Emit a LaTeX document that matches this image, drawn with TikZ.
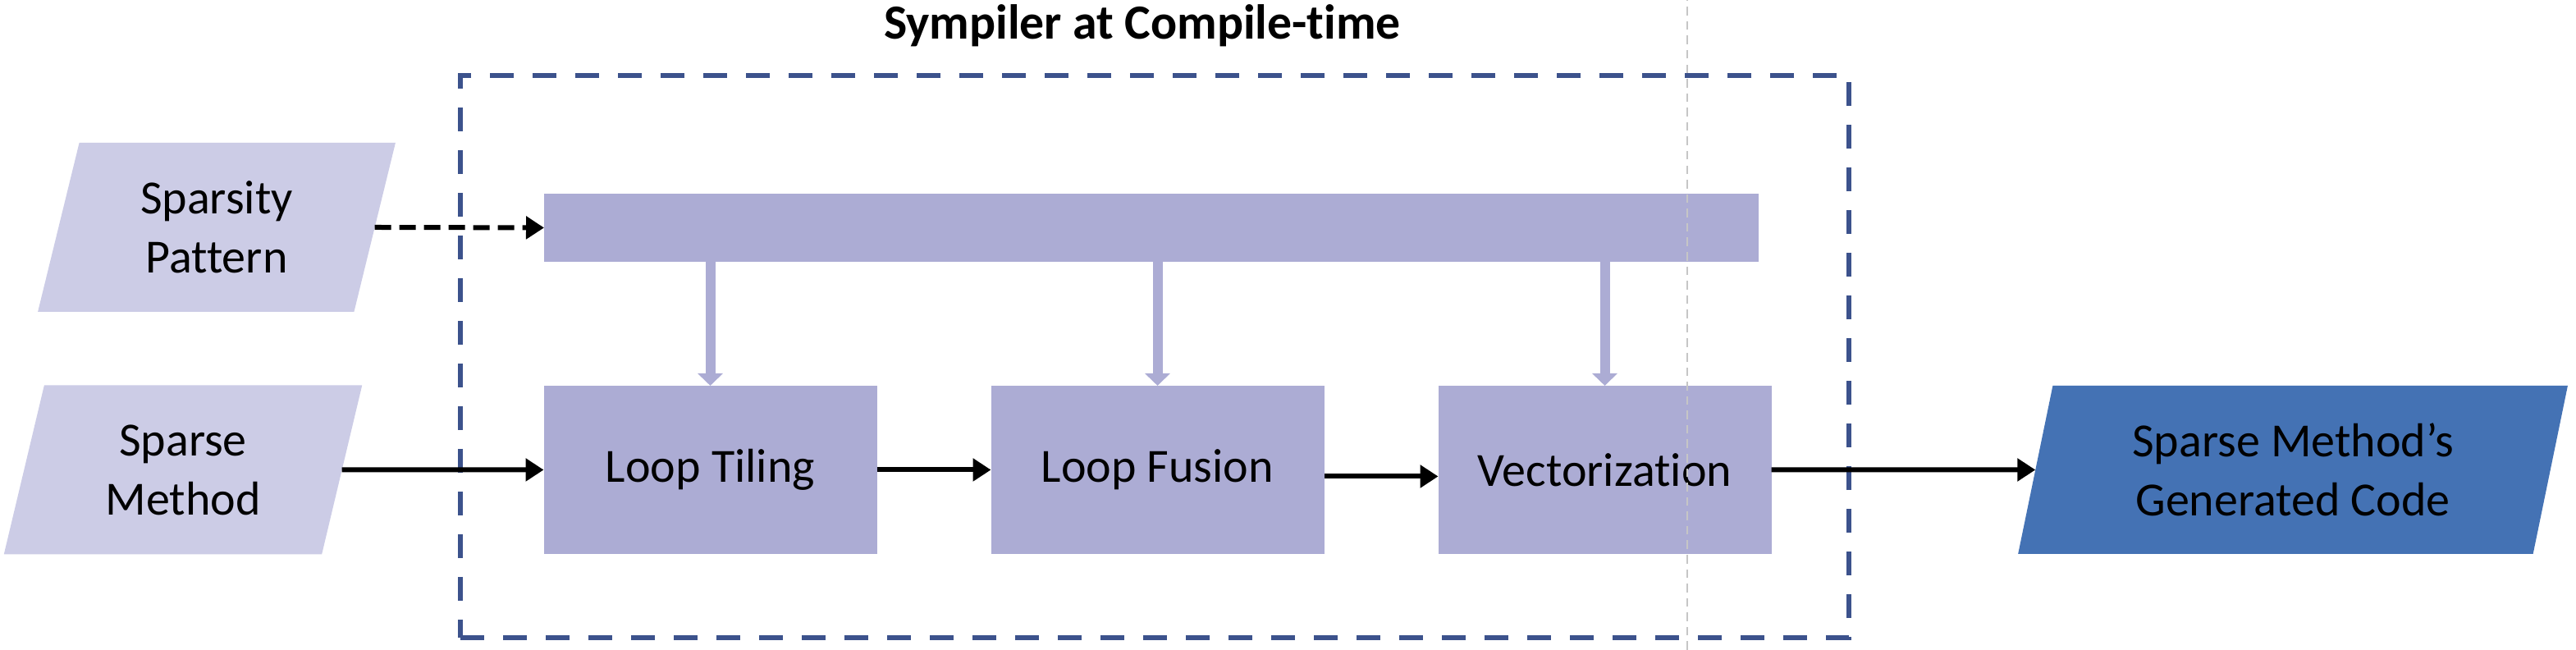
\documentclass[tikz,border=0pt]{standalone}
\usepackage{fontspec}
\setmainfont{Carlito}[Ligatures=NoCommon]
\usetikzlibrary{arrows.meta,positioning,shapes.geometric,calc}

\definecolor{stagefill}{RGB}{172,172,212}
\definecolor{inputfill}{RGB}{204,204,230}
\definecolor{outputfill}{RGB}{68,114,180}
\definecolor{frameblue}{RGB}{60,82,140}

\begin{document}
\begin{tikzpicture}[
  font=\fontsize{16.5}{20.5}\selectfont,
  line/.style={-{Triangle[length=0.22cm, width=0.27cm]}, line width=0.06cm},
  dline/.style={line, dash pattern=on 0.2cm off 0.1cm},
  feed/.style={-{Triangle[length=0.15cm, width=0.30cm]}, line width=0.12cm, draw=stagefill},
  stagebox/.style={
    fill=stagefill, align=center, inner sep=0pt, outer sep=0pt,
    minimum width=4.06cm, minimum height=2.05cm
  },
  barbox/.style={
    fill=stagefill, inner sep=0pt, outer sep=0pt,
    minimum width=14.80cm, minimum height=0.83cm
  },
  inbox/.style={
    trapezium, trapezium left angle=76, trapezium right angle=104,
    trapezium stretches=true, fill=inputfill, align=center,
    inner sep=0pt, outer sep=0pt, minimum width=4.37cm, minimum height=2.06cm
  },
  outbox/.style={inbox, fill=outputfill, minimum width=6.70cm, minimum height=2.05cm},
  framebox/.style={
    draw=frameblue, line width=0.055cm, dash pattern=on 0.29cm off 0.23cm,
    inner sep=0pt, minimum width=16.92cm, minimum height=6.85cm
  },
  title/.style={font=\bfseries\fontsize{17}{20}\selectfont},
  guide/.style={draw=gray!45, line width=0.4pt, densely dashed}
]
\useasboundingbox (0,0) rectangle (31.39,7.92);

% Frame and title
\node[framebox] (frame) at (14.07,3.575) {};
\node[title, anchor=base] (head) at (13.92,7.44) {Sympiler at Compile-time};

% Inputs
\node[inbox] (pattern) at (2.64,5.15) {Sparsity\\Pattern};
\node[inbox] (method) at (2.23,2.195) {Sparse\\Method};

% Stages
\node[barbox, anchor=north west] (bar) at (6.63,5.56) {};
\node[stagebox] (tiling) at (8.655,2.195) {Loop Tiling};
\node[stagebox, right=1.39cm of tiling] (fusion) {Loop Fusion};
\node[stagebox, right=1.39cm of fusion] (vector) {Vectorization};

% Output
\node[outbox] (code) at (27.94,2.195) {Sparse Method’s\\Generated Code};

% Connectors
\draw[dline] (pattern.east) -- (bar.west);
\draw[line] (method.east) -- (tiling.west);
\draw[line] (tiling) -- (fusion);
\draw[line] ([yshift=-0.08cm]fusion.east) -- ([yshift=-0.08cm]vector.west);
\draw[line] (vector.east) -- (code.west);

% Feeds from the bar
\draw[feed] (tiling.north |- bar.south) -- (tiling.north);
\draw[feed] (fusion.north |- bar.south) -- (fusion.north);
\draw[feed] (vector.north |- bar.south) -- (vector.north);

% Guide line
\draw[guide] (20.56,0) -- (20.56,7.92);

\end{tikzpicture}
\end{document}
